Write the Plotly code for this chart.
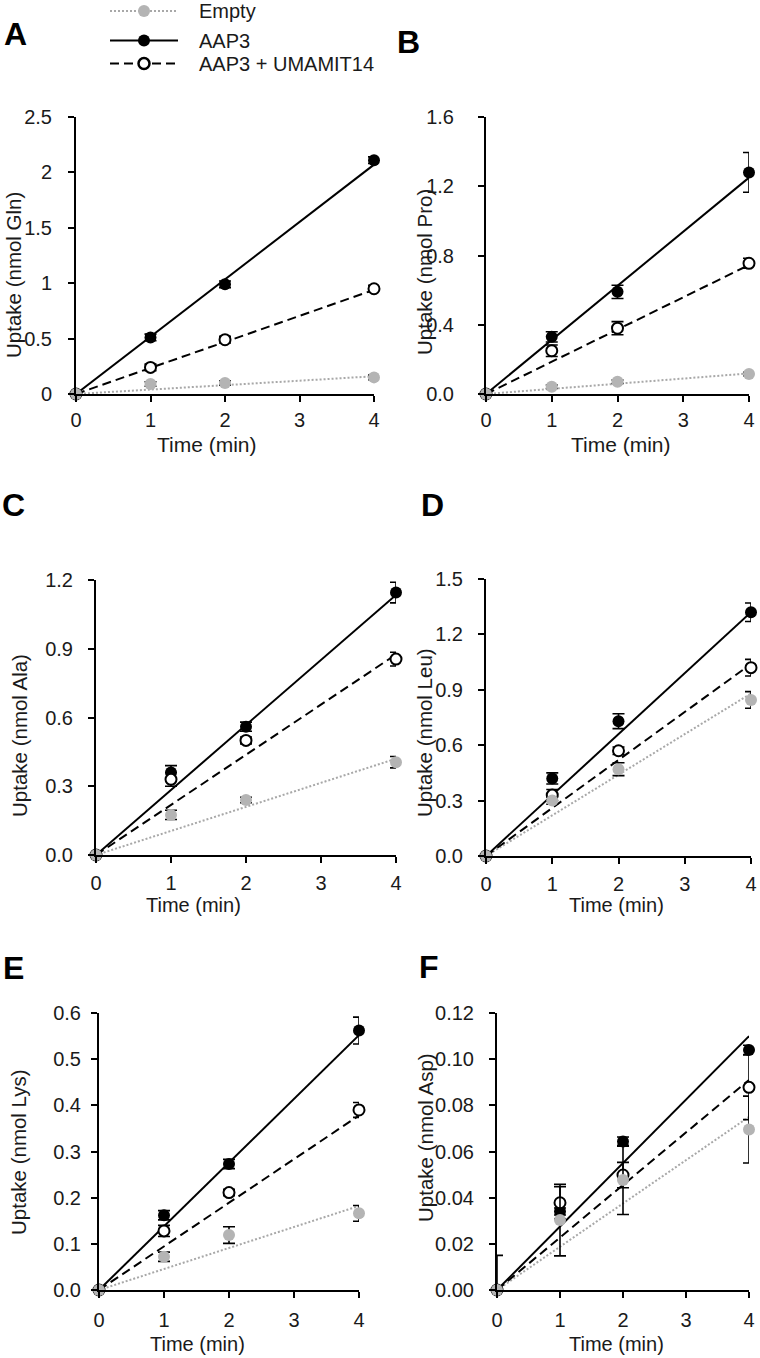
import plotly.graph_objects as go

W, H = 760, 1358

# ---------------- data ----------------
time = [0, 1, 2, 4]
fit_x = [0, 4]
x_ticks = [0, 1, 2, 3, 4]
series_names = ["Empty", "AAP3", "AAP3 + UMAMIT14"]
panel_letters = ["A", "B", "C", "D", "E", "F"]
amino_acids = ["Gln", "Pro", "Ala", "Leu", "Lys", "Asp"]

# A - Gln
gln_empty = [0, 0.09, 0.10, 0.15]
gln_empty_err = [0, 0.02, 0.02, 0.02]
gln_aap3 = [0, 0.51, 0.99, 2.11]
gln_aap3_err = [0, 0.03, 0.03, 0.03]
gln_umamit = [0, 0.24, 0.49, 0.95]
gln_umamit_err = [0, 0.03, 0.03, 0.03]
gln_fit = {"Empty": [0, 0.16], "AAP3": [0, 2.07], "UMAMIT": [0, 0.94]}

# B - Pro
pro_empty = [0, 0.042, 0.071, 0.115]
pro_empty_err = [0, 0.01, 0.01, 0.01]
pro_aap3 = [0, 0.33, 0.59, 1.28]
pro_aap3_err = [0, 0.03, 0.038, 0.115]
pro_umamit = [0, 0.25, 0.38, 0.755]
pro_umamit_err = [0, 0.033, 0.038, 0.029]
pro_fit = {"Empty": [0, 0.119], "AAP3": [0, 1.25], "UMAMIT": [0, 0.745]}

# C - Ala
ala_empty = [0, 0.175, 0.24, 0.405]
ala_empty_err = [0, 0.02, 0.012, 0.025]
ala_aap3 = [0, 0.36, 0.56, 1.145]
ala_aap3_err = [0, 0.03, 0.02, 0.045]
ala_umamit = [0, 0.33, 0.50, 0.855]
ala_umamit_err = [0, 0.03, 0.015, 0.03]
ala_fit = {"Empty": [0, 0.42], "AAP3": [0, 1.135], "UMAMIT": [0, 0.875]}

# D - Leu
leu_empty = [0, 0.30, 0.47, 0.845]
leu_empty_err = [0, 0.02, 0.035, 0.045]
leu_aap3 = [0, 0.42, 0.73, 1.32]
leu_aap3_err = [0, 0.03, 0.04, 0.05]
leu_umamit = [0, 0.33, 0.57, 1.02]
leu_umamit_err = [0, 0.03, 0.02, 0.045]
leu_fit = {"Empty": [0, 0.88], "AAP3": [0, 1.32], "UMAMIT": [0, 1.04]}

# E - Lys
lys_empty = [0, 0.072, 0.119, 0.166]
lys_empty_err = [0, 0.01, 0.018, 0.017]
lys_aap3 = [0, 0.162, 0.273, 0.562]
lys_aap3_err = [0, 0.01, 0.01, 0.029]
lys_umamit = [0, 0.128, 0.211, 0.39]
lys_umamit_err = [0, 0.012, 0.007, 0.016]
lys_fit = {"Empty": [0, 0.182], "AAP3": [0, 0.552], "UMAMIT": [0, 0.378]}

# F - Asp
asp_empty = [0, 0.0303, 0.0477, 0.0695]
asp_empty_err = [0.015, 0.0155, 0.015, 0.0145]
asp_aap3 = [0, 0.034, 0.0643, 0.104]
asp_aap3_err = [0, 0.0015, 0.002, 0.002]
asp_umamit = [0, 0.0378, 0.0498, 0.0878]
asp_umamit_err = [0, 0.007, 0.0055, 0.014]
asp_fit = {"Empty": [0, 0.075], "AAP3": [0, 0.110], "UMAMIT": [0, 0.091]}

y_max = [2.5, 1.6, 1.2, 1.5, 0.6, 0.12]
y_dtick = [0.5, 0.4, 0.3, 0.3, 0.1, 0.02]
y_format = ["", ".1f", ".1f", ".1f", ".1f", ".2f"]

data = [
    (gln_empty, gln_empty_err, gln_aap3, gln_aap3_err, gln_umamit, gln_umamit_err, gln_fit),
    (pro_empty, pro_empty_err, pro_aap3, pro_aap3_err, pro_umamit, pro_umamit_err, pro_fit),
    (ala_empty, ala_empty_err, ala_aap3, ala_aap3_err, ala_umamit, ala_umamit_err, ala_fit),
    (leu_empty, leu_empty_err, leu_aap3, leu_aap3_err, leu_umamit, leu_umamit_err, leu_fit),
    (lys_empty, lys_empty_err, lys_aap3, lys_aap3_err, lys_umamit, lys_umamit_err, lys_fit),
    (asp_empty, asp_empty_err, asp_aap3, asp_aap3_err, asp_umamit, asp_umamit_err, asp_fit),
]

# ---------------- layout geometry (pixels) ----------------
# plot area: x0, x1, ytop, ybottom
boxes = [
    (76, 374, 117, 394),
    (486, 749, 117, 394),
    (96, 396, 580, 855),
    (486, 751, 579, 856),
    (99, 359, 1013, 1290),
    (497, 749, 1013, 1290),
]
letter_pos = [(15, 34), (408, 42), (14, 505), (432, 505), (14, 968), (429, 967)]
ytitle_pos = [(14, 275), (425, 272), (19, 736), (424, 732), (18, 1152), (425, 1138)]
xtitle_pos = [(207, 445), (621, 445), (193, 905), (616, 905), (198, 1344), (616, 1344)]
xtitle_size = [21, 21, 20, 20, 20, 20]
ytick_standoff = [12, 20, 11, 11, 6, 11]
xtick_standoff = [1, 1, 3, 3, 5, 5]

FONT = "Liberation Sans, Arial, sans-serif"
TXT = "#1a1a1a"
GREY = "#b4b4b4"

def fx(px):
    return px / W

def fy(py):
    return 1 - py / H

fig = go.Figure()
annotations = []
layout_axes = {}

for i, (emp, emp_e, aap, aap_e, umi, umi_e, fit) in enumerate(data):
    n = i + 1
    xa, ya = f"x{n}", f"y{n}"
    # fit lines
    fig.add_trace(go.Scatter(x=fit_x, y=fit["Empty"], mode="lines", xaxis=xa, yaxis=ya,
                             line=dict(color="#a8a8a8", width=2, dash="2px,2px"),
                             showlegend=False, hoverinfo="skip", cliponaxis=False))
    fig.add_trace(go.Scatter(x=fit_x, y=fit["AAP3"], mode="lines", xaxis=xa, yaxis=ya,
                             line=dict(color="black", width=2),
                             showlegend=False, hoverinfo="skip", cliponaxis=False))
    fig.add_trace(go.Scatter(x=fit_x, y=fit["UMAMIT"], mode="lines", xaxis=xa, yaxis=ya,
                             line=dict(color="black", width=2, dash="9px,5px"),
                             showlegend=False, hoverinfo="skip", cliponaxis=False))
    err_style = dict(type="data", color="black", thickness=1.6, width=6)
    fig.add_trace(go.Scatter(x=time, y=aap, mode="markers", xaxis=xa, yaxis=ya, name=series_names[1],
                             marker=dict(color="black", size=12, line=dict(width=0)),
                             error_y=dict(array=aap_e, **err_style),
                             showlegend=False, cliponaxis=False))
    fig.add_trace(go.Scatter(x=time, y=umi, mode="markers", xaxis=xa, yaxis=ya, name=series_names[2],
                             marker=dict(color="white", size=11, line=dict(color="black", width=2)),
                             error_y=dict(array=umi_e, **err_style),
                             showlegend=False, cliponaxis=False))
    fig.add_trace(go.Scatter(x=time, y=emp, mode="markers", xaxis=xa, yaxis=ya, name=series_names[0],
                             marker=dict(color=GREY, size=12, line=dict(width=0)),
                             error_y=dict(array=emp_e, **err_style),
                             showlegend=False, cliponaxis=False))

    x0, x1, yt, yb = boxes[i]
    axis_common = dict(showline=True, linecolor="black", linewidth=2, ticks="outside",
                       ticklen=6, tickwidth=2, tickcolor="black", showgrid=False, zeroline=False,
                       automargin=False,
                       tickfont=dict(family=FONT, size=20, color=TXT))
    layout_axes[f"xaxis{n}"] = dict(domain=[fx(x0), fx(x1)], anchor=ya, range=[0, 4],
                                   tickvals=x_ticks, ticklabelstandoff=xtick_standoff[i], **axis_common)
    layout_axes[f"yaxis{n}"] = dict(domain=[fy(yb), fy(yt)], anchor=xa, range=[0, y_max[i]],
                                   dtick=y_dtick[i], tick0=0, tickformat=y_format[i],
                                   ticklabelstandoff=ytick_standoff[i], **axis_common)

    lx, ly = letter_pos[i]
    annotations.append(dict(text=f"<b>{panel_letters[i]}</b>", x=fx(lx), y=fy(ly), xref="paper", yref="paper",
                            showarrow=False, xanchor="center", yanchor="middle",
                            font=dict(family=FONT, size=32, color="black")))
    tx, ty = ytitle_pos[i]
    annotations.append(dict(text=f"Uptake (nmol {amino_acids[i]})", x=fx(tx), y=fy(ty), xref="paper",
                            yref="paper", showarrow=False, textangle=-90, xanchor="center", yanchor="middle",
                            font=dict(family=FONT, size=20.5, color=TXT)))
    tx, ty = xtitle_pos[i]
    annotations.append(dict(text="Time (min)", x=fx(tx), y=fy(ty), xref="paper", yref="paper",
                            showarrow=False, xanchor="center", yanchor="middle",
                            font=dict(family=FONT, size=xtitle_size[i], color=TXT)))

# ---------------- legend (own small axis) ----------------
legend_rows = [11, 40.5, 63.5]
legend_line_x = [0, 1]
legend_mark_x = [0.5]
fig.add_trace(go.Scatter(x=legend_line_x, y=[legend_rows[0]] * 2, xaxis="x7", yaxis="y7", mode="lines",
                         line=dict(color="#a8a8a8", width=2, dash="2px,2px"), showlegend=False, hoverinfo="skip"))
fig.add_trace(go.Scatter(x=legend_mark_x, y=[legend_rows[0]], xaxis="x7", yaxis="y7", mode="markers",
                         marker=dict(color=GREY, size=12), showlegend=False, hoverinfo="skip", cliponaxis=False))
fig.add_trace(go.Scatter(x=legend_line_x, y=[legend_rows[1]] * 2, xaxis="x7", yaxis="y7", mode="lines",
                         line=dict(color="black", width=2), showlegend=False, hoverinfo="skip"))
fig.add_trace(go.Scatter(x=legend_mark_x, y=[legend_rows[1]], xaxis="x7", yaxis="y7", mode="markers",
                         marker=dict(color="black", size=12), showlegend=False, hoverinfo="skip", cliponaxis=False))
fig.add_trace(go.Scatter(x=legend_line_x, y=[legend_rows[2]] * 2, xaxis="x7", yaxis="y7", mode="lines",
                         line=dict(color="black", width=2, dash="9px,5px"), showlegend=False, hoverinfo="skip"))
fig.add_trace(go.Scatter(x=legend_mark_x, y=[legend_rows[2]], xaxis="x7", yaxis="y7", mode="markers",
                         marker=dict(color="white", size=11, line=dict(color="black", width=2.5)),
                         showlegend=False, hoverinfo="skip", cliponaxis=False))
layout_axes["xaxis7"] = dict(domain=[fx(110), fx(178)], range=[0, 1], visible=False, anchor="y7",
                             automargin=False)
layout_axes["yaxis7"] = dict(domain=[fy(74), fy(0)], range=[74, 0], visible=False, anchor="x7",
                             automargin=False)
for name, row in zip(series_names, legend_rows):
    annotations.append(dict(text=name, x=fx(197), y=row, xref="paper", yref="y7", showarrow=False,
                            xanchor="left", yanchor="middle", font=dict(family=FONT, size=20, color=TXT)))

fig.update_layout(width=W, height=H, margin=dict(l=0, r=0, t=0, b=0, autoexpand=False),
                  paper_bgcolor="white", plot_bgcolor="white", showlegend=False,
                  annotations=annotations, **layout_axes)

fig.write_html("out.html", config={"displayModeBar": False},
               post_script="document.body.style.margin='0px';document.body.style.overflow='hidden';")
